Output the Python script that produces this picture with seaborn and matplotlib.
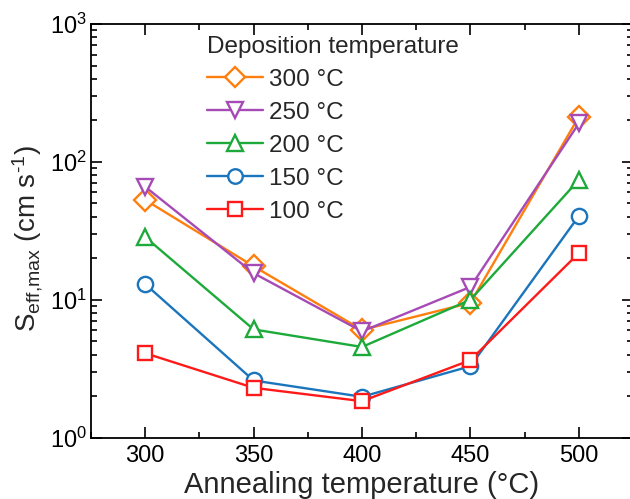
import matplotlib
matplotlib.use("Agg")
import matplotlib.pyplot as plt
import numpy as np
import pandas as pd
import seaborn as sns
from matplotlib.ticker import LogLocator, MultipleLocator, NullFormatter, FixedLocator

# Annealing temperatures (x) and maximum effective surface recombination velocity per deposition temperature
anneal_temp = [300, 350, 400, 450, 500]
dep_labels = ["300 °C", "250 °C", "200 °C", "150 °C", "100 °C"]
s_dep300 = [53, 17.5, 6.05, 9.5, 212]
s_dep250 = [66, 15.6, 5.9, 12.4, 190]
s_dep200 = [28.5, 6.1, 4.55, 10.0, 74]
s_dep150 = [13.0, 2.6, 1.98, 3.3, 40.5]
s_dep100 = [4.1, 2.3, 1.84, 3.65, 21.8]

colors = ["#FF7F0E", "#A64AB5", "#1DAA3A", "#1B75BC", "#FF1A1A"]
marker_shapes = ["D", "v", "^", "o", "s"]
marker_sizes = [11, 12, 12, 11, 10]

series = [s_dep300, s_dep250, s_dep200, s_dep150, s_dep100]
df = pd.DataFrame({
    "anneal": anneal_temp * len(dep_labels),
    "seff": [v for s in series for v in s],
    "dep": [lab for lab in dep_labels for _ in anneal_temp],
})

sns.set_theme(style="ticks")
plt.rcParams["font.family"] = ["Liberation Sans", "DejaVu Sans"]
plt.rcParams["mathtext.fontset"] = "custom"
plt.rcParams["mathtext.rm"] = "Liberation Sans"
plt.rcParams["mathtext.it"] = "Liberation Sans:italic"
plt.rcParams["mathtext.bf"] = "Liberation Sans:bold"

fig = plt.figure(figsize=(6.3, 4.99), dpi=100)
ax = fig.add_axes([91 / 630, 61.3 / 499, (633 - 91) / 630, 413.7 / 499])

sns.lineplot(
    data=df, x="anneal", y="seff", hue="dep", hue_order=dep_labels,
    palette=colors, style="dep", style_order=dep_labels,
    markers=dict(zip(dep_labels, marker_shapes)), dashes=False,
    errorbar=None, legend=False, sort=False,
    lw=1.7, mew=1.7, mfc="white", ax=ax,
)

hex_colors = [matplotlib.colors.to_hex(k).upper() for k in colors]
handles = [None] * len(dep_labels)
for line in ax.lines:
    idx = hex_colors.index(matplotlib.colors.to_hex(line.get_color()).upper())
    line.set_markeredgecolor(colors[idx])
    line.set_markerfacecolor("white")
    line.set_markersize(marker_sizes[idx])
    handles[idx] = line

ax.set_yscale("log")
ax.set_ylim(1, 1000)
ax.set_xlim(275, 525)
ax.xaxis.set_major_locator(FixedLocator(anneal_temp))
ax.xaxis.set_minor_locator(MultipleLocator(25))
ax.yaxis.set_major_locator(LogLocator(base=10, numticks=10))
ax.yaxis.set_minor_locator(LogLocator(base=10, subs=np.arange(2, 10), numticks=100))
ax.yaxis.set_minor_formatter(NullFormatter())

ax.tick_params(which="both", direction="in", top=True, right=True,
               width=1.2, colors="black")
ax.tick_params(axis="x", labelsize=17, pad=5)
ax.tick_params(axis="y", labelsize=17, pad=3)
ax.tick_params(which="major", length=8)
ax.tick_params(which="minor", length=4)
for sp in ax.spines.values():
    sp.set_linewidth(1.3)
    sp.set_color("black")

ax.set_xlabel("Annealing temperature (°C)", fontsize=21, labelpad=3)
ax.set_ylabel(r"$\mathrm{S}_{\mathrm{eff{,}max}}$ (cm s$^{\text{-1}}$)", fontsize=20)
ax.yaxis.set_label_coords(-0.085, 0.48)

leg = ax.legend(
    handles, dep_labels, title="Deposition temperature",
    loc="upper left", bbox_to_anchor=((207 - 91) / 542, (437.7 - 36) / 413.7),
    frameon=False, fontsize=17.5, title_fontsize=17.5, alignment="left",
    handlelength=2.3, handletextpad=0.25, labelspacing=0.45,
    borderpad=0, borderaxespad=0, markerscale=0.95,
)

fig.savefig("out.png", dpi=100)
